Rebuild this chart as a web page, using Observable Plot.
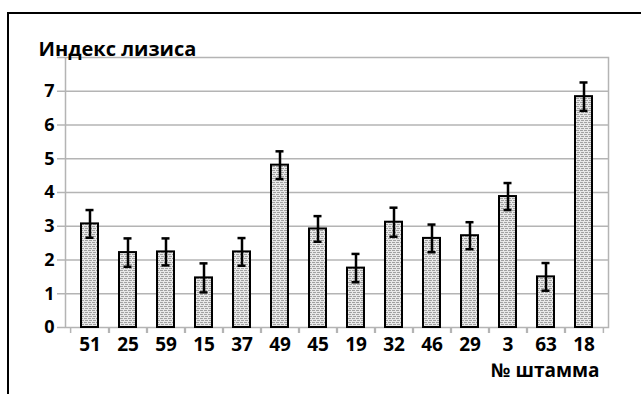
<!DOCTYPE html>
<html>
<head>
<meta charset="utf-8">
<script src="https://cdn.jsdelivr.net/npm/d3@7"></script>
<script src="https://cdn.jsdelivr.net/npm/@observablehq/plot@0.6"></script>
<style>
  html, body { margin: 0; padding: 0; background: #fff; overflow: hidden; }
  #wrap { position: relative; width: 641px; height: 394px; }
  #frame { position: absolute; left: 7px; top: 12px; width: 700px; height: 420px;
           border-top: 2.5px solid #000; border-left: 2.5px solid #000; pointer-events: none; }
</style>
</head>
<body>
<div id="wrap"><div id="frame"></div></div>
<script>
const strains = ["51","25","59","15","37","49","45","19","32","46","29","3","63","18"];
const values  = [3.07,2.22,2.24,1.47,2.24,4.81,2.92,1.76,3.12,2.64,2.72,3.88,1.50,6.84];
const errors  = [0.41,0.42,0.40,0.43,0.41,0.41,0.38,0.42,0.43,0.41,0.40,0.40,0.41,0.42];
const yTicks  = [0,1,2,3,4,5,6,7];
const titleText = "Индекс лизиса";
const xLabel = "№ штамма";

const data = strains.map((s, i) => ({strain: s, value: values[i], lo: values[i] - errors[i], hi: values[i] + errors[i]}));

const W = 641, H = 394, mL = 65, mR = 33, mT = 57, mB = 67;
const step = (W - mL - mR) / strains.length;
const grid = "#b4b4b4";

const chart = Plot.plot({
  width: W, height: H,
  marginLeft: mL, marginRight: mR, marginTop: mT, marginBottom: mB,
  style: {fontFamily: "'Open Sans', sans-serif", fontWeight: "bold", fontSize: "18px", color: "#000", background: "transparent"},
  x: {domain: strains, paddingInner: 0.56, paddingOuter: 0.28, label: null},
  y: {domain: [0, 8], label: null},
  marks: [
    Plot.ruleY(yTicks.filter(d => d > 0), {stroke: grid, strokeWidth: 1.5}),
    Plot.frame({stroke: grid, strokeWidth: 1.5}),
    Plot.axisY({ticks: [...yTicks, 8], tickSize: 8, tickPadding: 3, stroke: grid, strokeWidth: 1.5,
                tickFormat: d => d === 8 ? "" : d, color: "#000", label: null, fontSize: 18}),
    Plot.axisX({tickSize: 0, tickPadding: 10, label: null, fontSize: 19, color: "#000"}),
    Plot.axisX({tickSize: 6, text: null, dx: step / 2, stroke: grid, strokeWidth: 1.5, label: null}),
    Plot.axisX({tickSize: 6, text: null, dx: -step / 2, stroke: grid, strokeWidth: 1.5, label: null}),
    Plot.barY(data, {x: "strain", y: "value", fill: "url(#hatch)", stroke: "#000", strokeWidth: 2}),
    Plot.ruleX(data, {x: "strain", y1: "lo", y2: "hi", stroke: "#000", strokeWidth: 2.5}),
    Plot.tickY(data, {x: "strain", y: "lo", stroke: "#000", strokeWidth: 2.5, insetLeft: 4.5, insetRight: 4.5}),
    Plot.tickY(data, {x: "strain", y: "hi", stroke: "#000", strokeWidth: 2.5, insetLeft: 4.5, insetRight: 4.5}),
    Plot.text([titleText], {text: d => d, frameAnchor: "top-left", textAnchor: "start", dx: -27, dy: -16, fontSize: 20, fill: "#000"}),
    Plot.text([xLabel], {text: d => d, frameAnchor: "bottom-right", textAnchor: "end", dx: -9, dy: 49, fontSize: 19, fill: "#000"})
  ]
});

// hatch pattern
const ns = "http://www.w3.org/2000/svg";
const defs = document.createElementNS(ns, "defs");
const pat = document.createElementNS(ns, "pattern");
pat.setAttribute("id", "hatch");
pat.setAttribute("patternUnits", "userSpaceOnUse");
pat.setAttribute("width", "4");
pat.setAttribute("height", "4");
const bg = document.createElementNS(ns, "rect");
bg.setAttribute("width", "4"); bg.setAttribute("height", "4"); bg.setAttribute("fill", "#e8e8e8");
const p1 = document.createElementNS(ns, "path");
p1.setAttribute("d", "M0,3 L1,2 L2,3 L3,2 M1,0 L2,1 L3,0 L4,1");
p1.setAttribute("stroke", "#999999"); p1.setAttribute("stroke-width", "0.9"); p1.setAttribute("fill", "none");
pat.appendChild(bg); pat.appendChild(p1); defs.appendChild(pat);
chart.insertBefore(defs, chart.firstChild);

chart.style.position = "absolute";
chart.style.left = "0px";
chart.style.top = "0px";
document.getElementById("wrap").insertBefore(chart, document.getElementById("frame"));
</script>
</body>
</html>
